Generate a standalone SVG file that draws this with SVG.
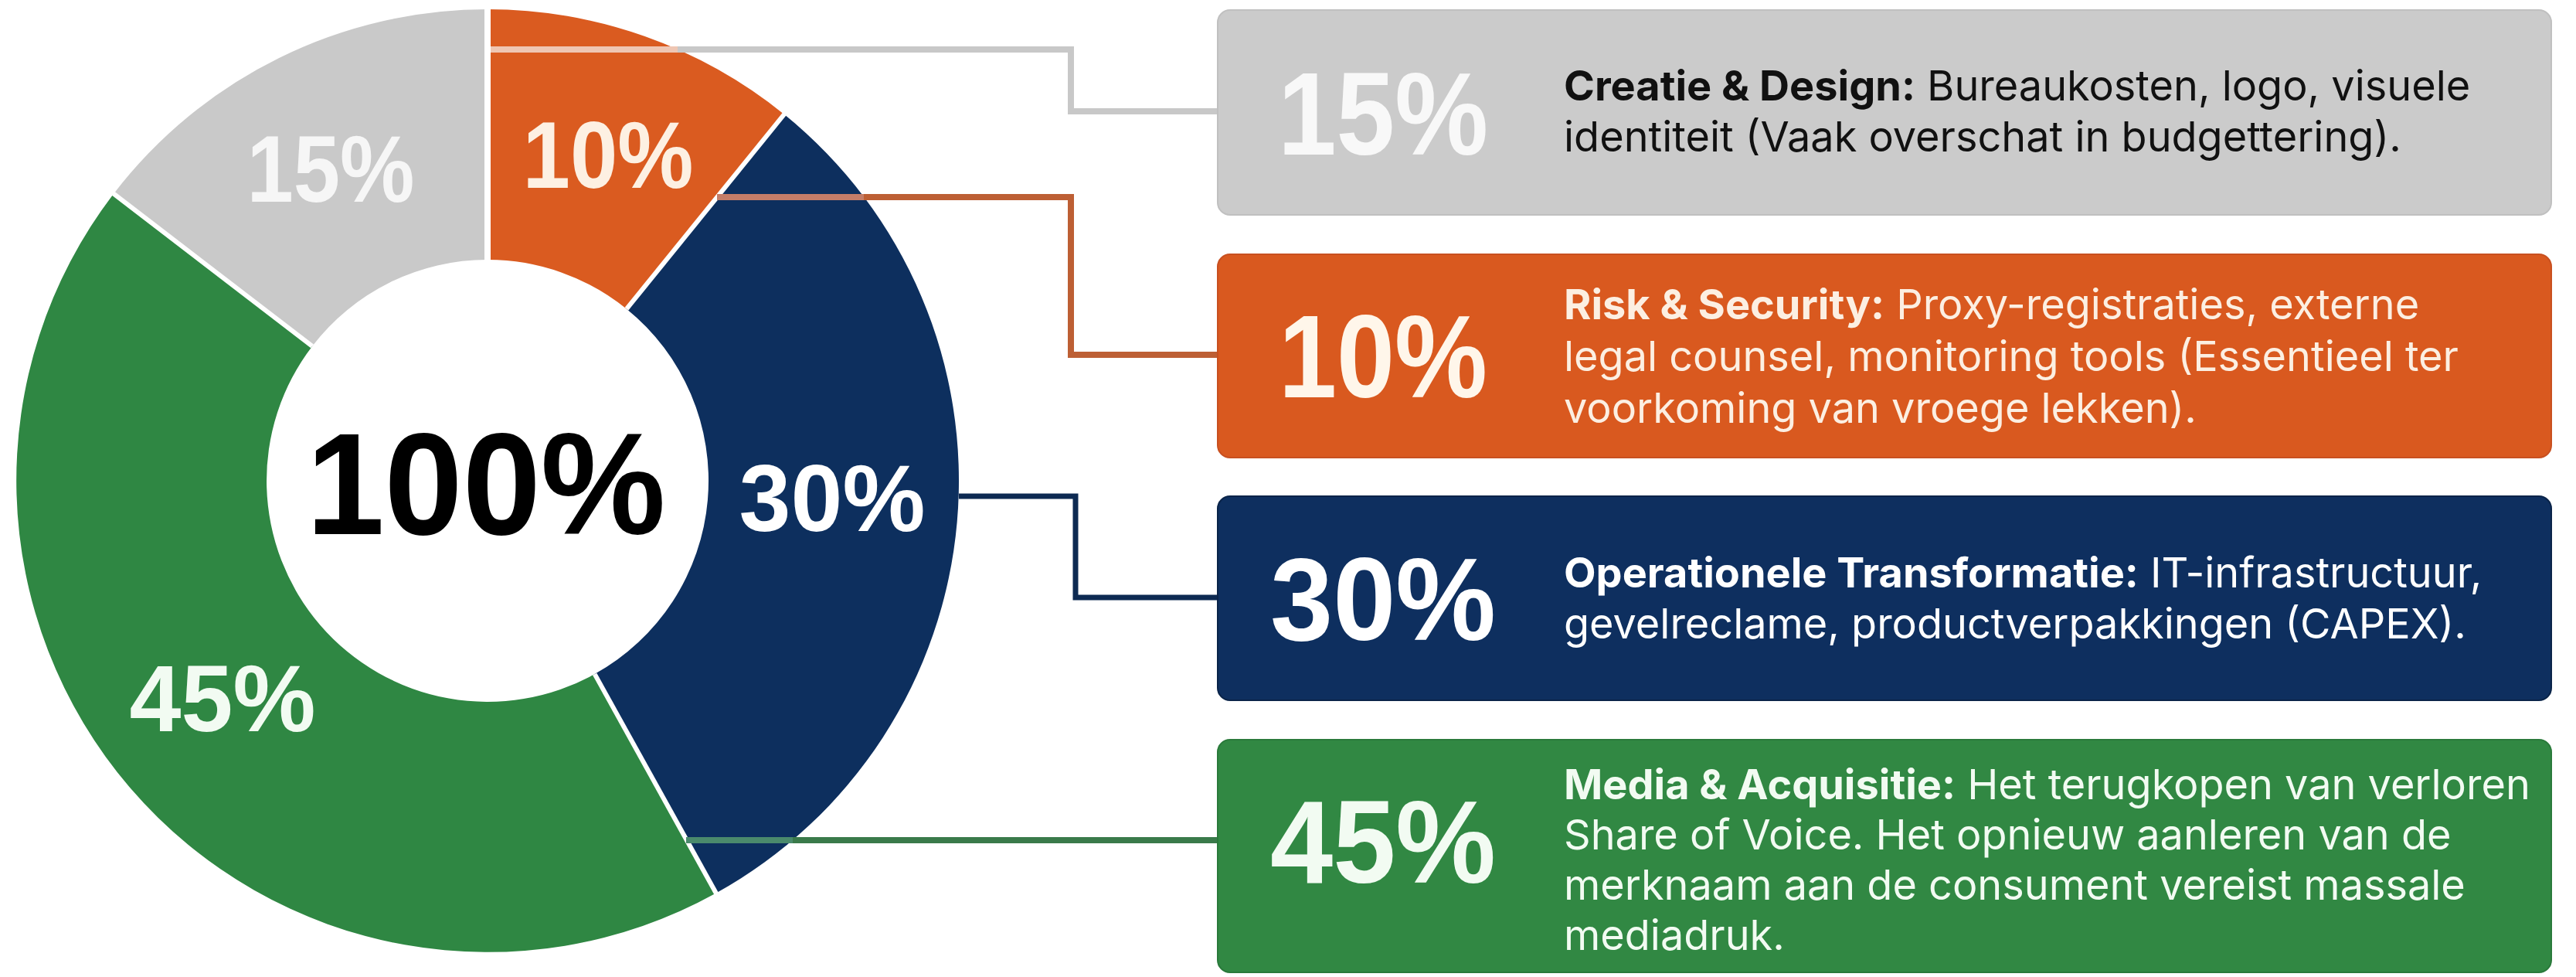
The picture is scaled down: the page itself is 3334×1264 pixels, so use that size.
<svg xmlns="http://www.w3.org/2000/svg" width="3334" height="1264" viewBox="0 0 3334 1264">
  <defs>
    <style>
      .seg-label { font-family: "Liberation Sans", Arial, sans-serif; font-weight: 700; font-size: 123px; text-anchor: middle; }
      .big { font-family: "Liberation Sans", Arial, sans-serif; font-weight: 700; font-size: 152px; text-anchor: middle; }
      .desc { font-family: "Inter", "Liberation Sans", sans-serif; font-size: 54px; }
      .desc .b { font-weight: 700; }
      .sep { stroke: #ffffff; stroke-width: 6; }
      .conn { fill: none; stroke-width: 8; stroke-linejoin: miter; stroke-linecap: butt; }
    </style>
  </defs>
  <rect x="0" y="0" width="3334" height="1264" fill="#ffffff"/>

  <g id="donut">
    <path id="seg-orange" d="M631,12 A610,610 0 0 1 1014.9,147.9 L811.0,399.7 A286,286 0 0 0 631,336 Z" fill="#da5b20"/>
    <path id="seg-navy" d="M1014.9,147.9 A610,610 0 0 1 926.7,1155.5 L769.7,872.1 A286,286 0 0 0 811.0,399.7 Z" fill="#0d2f5e"/>
    <path id="seg-green" d="M926.7,1155.5 A610,610 0 0 1 147.1,250.7 L404.1,447.9 A286,286 0 0 0 769.7,872.1 Z" fill="#2f8743"/>
    <path id="seg-gray" d="M147.1,250.7 A610,610 0 0 1 631,12 L631,336 A286,286 0 0 0 404.1,447.9 Z" fill="#c9c9c9"/>
    <line class="sep" x1="631" y1="338" x2="631" y2="6" style="stroke-width:8"/>
    <line class="sep" x1="811.0" y1="399.7" x2="1017.4" y2="144.8"/>
    <line class="sep" x1="769.7" y1="872.1" x2="928.7" y2="1159.0"/>
    <line class="sep" x1="404.1" y1="447.9" x2="143.9" y2="248.2"/>
    <text class="seg-label" x="428" y="261" fill="#f6f6f6" textLength="217" lengthAdjust="spacingAndGlyphs">15%</text>
    <text class="seg-label" x="787" y="243" fill="#fdf0e2" textLength="221" lengthAdjust="spacingAndGlyphs">10%</text>
    <text class="seg-label" x="1077" y="687" fill="#ffffff" textLength="241" lengthAdjust="spacingAndGlyphs">30%</text>
    <text class="seg-label" x="288" y="946" fill="#f2fbf2" textLength="241" lengthAdjust="spacingAndGlyphs">45%</text>
    <text x="629" y="691" font-family="Liberation Sans, Arial, sans-serif" font-weight="700" font-size="187" text-anchor="middle" fill="#000000" textLength="465" lengthAdjust="spacingAndGlyphs">100%</text>
  </g>

  <g id="connectors">
    <path class="conn" d="M877,64 H1386 V144 H1576" stroke="#c8c8c8"/>
    <path class="conn" d="M635,64 H877" stroke="#efc6b3"/>
    <path class="conn" d="M1118,255 H1386 V459 H1576" stroke="#bd5f34"/>
    <path class="conn" d="M928,255 H1118" stroke="#c47d68"/>
    <path class="conn" d="M1241,642 H1392 V773 H1576" stroke="#0d2a52" style="stroke-width:7"/>
    <path class="conn" d="M1026,1087 H1576" stroke="#3a7a4a"/>
    <path class="conn" d="M888,1087 H1026" stroke="#4a8a6c"/>
  </g>

  <g id="box-creatie">
    <rect x="1576" y="13" width="1726" height="265" rx="16" fill="#cbcbcb" stroke="#c0c0c0" stroke-width="2"/>
    <text class="big" x="1790" y="200" fill="#f8f8f8" textLength="272" lengthAdjust="spacingAndGlyphs">15%</text>
    <text class="desc" fill="#111111">
      <tspan x="2024" y="130"><tspan class="b">Creatie &amp; Design:</tspan> Bureaukosten, logo, visuele</tspan>
      <tspan x="2024" y="196">identiteit (Vaak overschat in budgettering).</tspan>
    </text>
  </g>

  <g id="box-risk">
    <rect x="1576" y="329" width="1726" height="263" rx="16" fill="#d9591f" stroke="#c85020" stroke-width="2"/>
    <text class="big" x="1790" y="514" fill="#fff6ea" textLength="270" lengthAdjust="spacingAndGlyphs">10%</text>
    <text class="desc" fill="#fcefe2">
      <tspan x="2024" y="413"><tspan class="b">Risk &amp; Security:</tspan> Proxy-registraties, externe</tspan>
      <tspan x="2024" y="480">legal counsel, monitoring tools (Essentieel ter</tspan>
      <tspan x="2024" y="547">voorkoming van vroege lekken).</tspan>
    </text>
  </g>

  <g id="box-operationeel">
    <rect x="1576" y="642" width="1726" height="264" rx="16" fill="#0e2f5f" stroke="#0a2449" stroke-width="2"/>
    <text class="big" x="1790" y="828" fill="#ffffff" textLength="292" lengthAdjust="spacingAndGlyphs">30%</text>
    <text class="desc" fill="#ffffff">
      <tspan x="2024" y="760"><tspan class="b">Operationele Transformatie:</tspan> IT-infrastructuur,</tspan>
      <tspan x="2024" y="826">gevelreclame, productverpakkingen (CAPEX).</tspan>
    </text>
  </g>

  <g id="box-media">
    <rect x="1576" y="957" width="1726" height="301" rx="16" fill="#318843" stroke="#2a7a3b" stroke-width="2"/>
    <text class="big" x="1790" y="1142" fill="#f2fbf2" textLength="292" lengthAdjust="spacingAndGlyphs">45%</text>
    <text class="desc" fill="#f2fbf2">
      <tspan x="2024" y="1034"><tspan class="b">Media &amp; Acquisitie:</tspan> Het terugkopen van verloren</tspan>
      <tspan x="2024" y="1099">Share of Voice. Het opnieuw aanleren van de</tspan>
      <tspan x="2024" y="1164">merknaam aan de consument vereist massale</tspan>
      <tspan x="2024" y="1229">mediadruk.</tspan>
    </text>
  </g>
</svg>
